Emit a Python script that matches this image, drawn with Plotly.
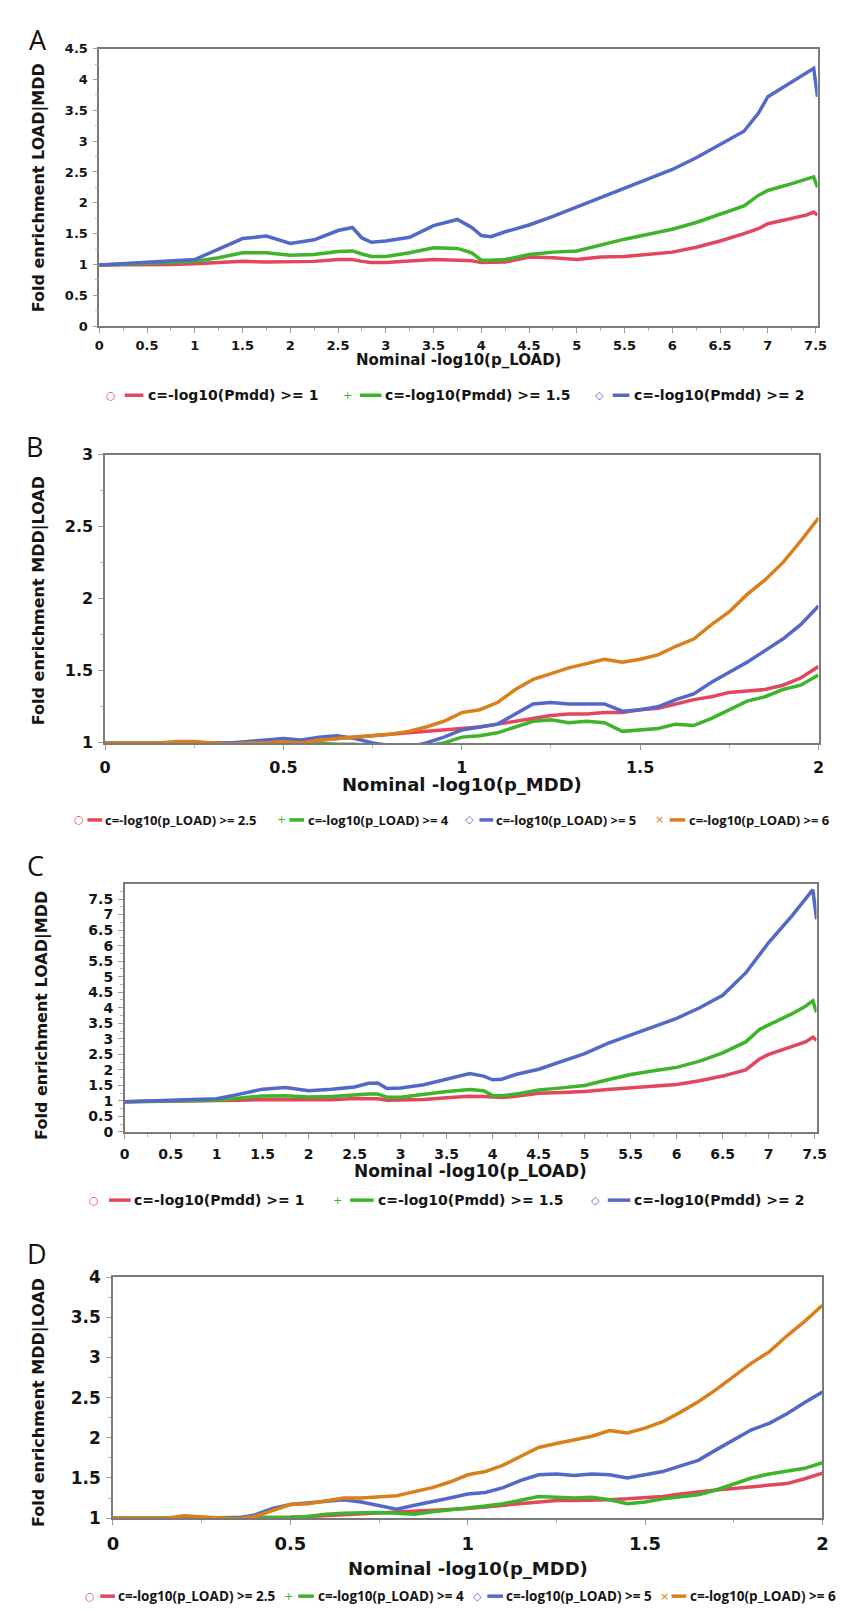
import plotly.graph_objects as go

W, H = 846, 1611

# ---------------- DATA ----------------
# Panels A and C: x = Nominal -log10(p_LOAD)
xA = [0, 0.25, 0.5, 0.75, 1, 1.25, 1.5, 1.75, 2, 2.25, 2.5, 2.65, 2.75, 2.85, 3, 3.25, 3.5, 3.75, 3.9,
      4, 4.1, 4.25, 4.5, 4.75, 5, 5.25, 5.5, 5.75, 6, 6.25, 6.5, 6.75, 6.9, 7, 7.25, 7.4, 7.48, 7.52]

redA = [0.99, 0.99, 1.0, 1.0, 1.01, 1.03, 1.05, 1.04, 1.04, 1.05, 1.08, 1.08, 1.05, 1.03, 1.03, 1.05, 1.08, 1.07, 1.06,
        1.03, 1.03, 1.04, 1.12, 1.11, 1.08, 1.12, 1.13, 1.16, 1.20, 1.28, 1.38, 1.50, 1.58, 1.66, 1.75, 1.80, 1.85, 1.80]
greenA = [0.99, 1.0, 1.02, 1.03, 1.05, 1.11, 1.19, 1.19, 1.15, 1.16, 1.21, 1.22, 1.17, 1.13, 1.13, 1.19, 1.27, 1.26, 1.19,
          1.07, 1.07, 1.08, 1.16, 1.20, 1.22, 1.32, 1.41, 1.49, 1.57, 1.68, 1.81, 1.95, 2.12, 2.20, 2.31, 2.38, 2.42, 2.25]
blueA = [0.99, 1.01, 1.03, 1.05, 1.08, 1.25, 1.42, 1.46, 1.34, 1.40, 1.55, 1.60, 1.43, 1.36, 1.38, 1.44, 1.63, 1.73, 1.60,
         1.47, 1.45, 1.53, 1.64, 1.78, 1.93, 2.09, 2.24, 2.38, 2.54, 2.73, 2.95, 3.16, 3.45, 3.72, 3.96, 4.10, 4.18, 3.72]

redC = [0.97, 0.98, 0.99, 1.0, 1.0, 1.02, 1.05, 1.04, 1.03, 1.04, 1.08, 1.08, 1.07, 1.02, 1.03, 1.05, 1.10, 1.15, 1.14,
        1.12, 1.11, 1.15, 1.25, 1.27, 1.30, 1.37, 1.42, 1.47, 1.53, 1.65, 1.80, 2.0, 2.35, 2.50, 2.75, 2.90, 3.05, 2.95]
greenC = [0.97, 0.99, 1.0, 1.01, 1.02, 1.08, 1.16, 1.17, 1.13, 1.14, 1.20, 1.22, 1.22, 1.12, 1.12, 1.22, 1.30, 1.37, 1.33,
          1.17, 1.17, 1.22, 1.35, 1.42, 1.50, 1.68, 1.85, 1.97, 2.08, 2.28, 2.55, 2.90, 3.30, 3.45, 3.80, 4.05, 4.22, 3.85]
blueC = [0.97, 0.99, 1.01, 1.03, 1.07, 1.22, 1.38, 1.43, 1.33, 1.38, 1.45, 1.57, 1.58, 1.40, 1.42, 1.52, 1.70, 1.88, 1.80,
         1.68, 1.70, 1.85, 2.02, 2.28, 2.52, 2.85, 3.12, 3.38, 3.66, 4.0, 4.40, 5.12, 5.70, 6.10, 6.95, 7.50, 7.80, 6.85]

# Panels B and D: x = Nominal -log10(p_MDD)
xB = [0, 0.05, 0.1, 0.15, 0.2, 0.25, 0.3, 0.35, 0.4, 0.45,
      0.5, 0.55, 0.6, 0.65, 0.7, 0.75, 0.8, 0.85, 0.9, 0.95,
      1.0, 1.05, 1.1, 1.15, 1.2, 1.25, 1.3, 1.35, 1.4, 1.45,
      1.5, 1.55, 1.6, 1.65, 1.7, 1.75, 1.8, 1.85, 1.9, 1.95, 2.0]

redB = [1.0, 1.0, 1.0, 1.0, 1.0, 1.0, 1.0, 1.0, 1.0, 1.0,
        1.01, 1.01, 1.02, 1.03, 1.04, 1.05, 1.06, 1.07, 1.08, 1.09,
        1.10, 1.11, 1.13, 1.15, 1.17, 1.19, 1.20, 1.20, 1.21, 1.21,
        1.23, 1.24, 1.27, 1.30, 1.32, 1.35, 1.36, 1.37, 1.40, 1.45, 1.53]
greenB = [1.0, 1.0, 1.0, 1.0, 1.0, 1.0, 1.0, 1.0, 0.99, 0.99,
          0.99, 1.0, 1.0, 0.99, 0.99, 0.98, 0.97, 0.96, 0.98, 1.0,
          1.04, 1.05, 1.07, 1.11, 1.15, 1.16, 1.14, 1.15, 1.14, 1.08,
          1.09, 1.10, 1.13, 1.12, 1.17, 1.23, 1.29, 1.32, 1.37, 1.40, 1.47]
blueB = [1.0, 1.0, 1.0, 1.0, 1.0, 1.0, 1.0, 1.0, 1.01, 1.02,
         1.03, 1.02, 1.04, 1.05, 1.03, 1.0, 0.98, 0.97, 1.0, 1.04,
         1.09, 1.11, 1.13, 1.20, 1.27, 1.28, 1.27, 1.27, 1.27, 1.22,
         1.23, 1.25, 1.30, 1.34, 1.42, 1.49, 1.56, 1.64, 1.72, 1.82, 1.95]
orangeB = [1.0, 1.0, 0.995, 1.0, 1.01, 1.01, 1.0, 0.99, 1.0, 1.0,
           1.01, 1.0, 1.02, 1.03, 1.04, 1.05, 1.06, 1.08, 1.11, 1.15,
           1.21, 1.23, 1.28, 1.37, 1.44, 1.48, 1.52, 1.55, 1.58, 1.56,
           1.58, 1.61, 1.67, 1.72, 1.82, 1.91, 2.03, 2.13, 2.25, 2.40, 2.56]

redD = [1.0, 1.0, 1.0, 1.0, 1.0, 1.0, 1.0, 1.0, 1.0, 1.0,
        1.01, 1.02, 1.03, 1.04, 1.05, 1.06, 1.07, 1.08, 1.09, 1.10,
        1.12, 1.14, 1.16, 1.18, 1.20, 1.22, 1.22, 1.22, 1.23, 1.24,
        1.25, 1.27, 1.30, 1.33, 1.35, 1.37, 1.39, 1.40, 1.43, 1.49, 1.56]
greenD = [1.0, 1.0, 1.0, 1.0, 1.0, 1.0, 1.0, 1.0, 1.0, 1.0,
          1.01, 1.02, 1.05, 1.06, 1.07, 1.07, 1.06, 1.05, 1.08, 1.10,
          1.12, 1.15, 1.18, 1.22, 1.27, 1.26, 1.25, 1.26, 1.23, 1.18,
          1.20, 1.24, 1.27, 1.29, 1.35, 1.42, 1.50, 1.55, 1.58, 1.62, 1.69]
blueD = [1.0, 1.0, 1.0, 1.0, 1.0, 1.0, 1.0, 1.0, 1.04, 1.12,
         1.17, 1.19, 1.21, 1.23, 1.20, 1.15, 1.11, 1.16, 1.20, 1.25,
         1.30, 1.32, 1.38, 1.47, 1.54, 1.55, 1.53, 1.55, 1.54, 1.50,
         1.54, 1.58, 1.65, 1.72, 1.85, 1.98, 2.10, 2.18, 2.30, 2.44, 2.57]
orangeD = [1.0, 1.0, 0.99, 1.0, 1.03, 1.02, 1.0, 0.99, 1.02, 1.09,
           1.17, 1.18, 1.21, 1.25, 1.25, 1.27, 1.28, 1.33, 1.38, 1.45,
           1.54, 1.58, 1.66, 1.77, 1.88, 1.93, 1.97, 2.02, 2.09, 2.06,
           2.12, 2.20, 2.32, 2.45, 2.60, 2.76, 2.93, 3.07, 3.27, 3.45, 3.65]

namesAC = ["c=-log10(Pmdd) >= 1", "c=-log10(Pmdd) >= 1.5", "c=-log10(Pmdd) >= 2"]
namesBD = ["c=-log10(p_LOAD) >= 2.5", "c=-log10(p_LOAD) >= 4", "c=-log10(p_LOAD) >= 5", "c=-log10(p_LOAD) >= 6"]
xtitleAC = "Nominal -log10(p_LOAD)"
xtitleBD = "Nominal -log10(p_MDD)"
ytitleAC = "Fold enrichment LOAD|MDD"
ytitleBD = "Fold enrichment MDD|LOAD"

# ---------------- STYLE ----------------
RED, GREEN, BLUE, ORANGE = "#E2475D", "#3DB42A", "#5468C8", "#D9801C"
COLORS = [RED, GREEN, BLUE, ORANGE]
SYMBOLS = ["○", "+", "◇", "×"]
TXT = "#151515"
BOLD = "DejaVu Sans"


def px(x):
    return x / W


def py(y):
    return 1 - y / H


fig = go.Figure()

panels = [
    dict(key="", x=xA, ys=[redA, greenA, blueA], names=namesAC, dom=(87, 820, 31, 312),
         xr=[0, 7.52], yr=[0, 4.5], tickfs=13, xtickfs=13, xstand=2, letter="A", lpos=(24, 22),
         xt=xtitleAC, xtpos=346, xtfs=15, yt=ytitleAC, ytpos=(25, 172), legy=382, legfs=14, legfam=BOLD,
         leg=[(99, 113, 132, 135), (340, 353, 375, 377), (597, 611, 628, 631)]),
    dict(key="2", x=xB, ys=[redB, greenB, blueB, orangeB], names=namesBD, dom=(93, 821, 442, 734),
         xr=[0, 2], yr=[1, 3], tickfs=16, xtickfs=16, xstand=4, letter="B", lpos=(21, 434),
         xt=xtitleBD, xtpos=776, xtfs=18, yt=ytitleBD, ytpos=(25, 590), legy=812, legfs=13, legfam="Open Sans",
         leg=[(66, 75, 90, 91), (273, 281, 296, 298), (465, 475, 489, 490), (659, 669, 685, 687)]),
    dict(key="3", x=xA, ys=[redC, greenC, blueC], names=namesAC, dom=(113, 819, 877, 1128),
         xr=[0, 7.52], yr=[0, 7.98], tickfs=14, xtickfs=14, xstand=3, letter="C", lpos=(22, 858),
         xt=xtitleAC, xtpos=1167, xtfs=17, yt=ytitleAC, ytpos=(29, 1010), legy=1197, legfs=14, legfam=BOLD,
         leg=[(82, 97, 119, 120), (330, 343, 367, 369), (593, 606, 629, 631)]),
    dict(key="4", x=xB, ys=[redD, greenD, blueD, orangeD], names=namesBD, dom=(101, 825, 1275, 1519),
         xr=[0, 2], yr=[1, 4.0], tickfs=17, xtickfs=18, xstand=4, letter="D", lpos=(23, 1251),
         xt=xtitleBD, xtpos=1570, xtfs=18, yt=ytitleBD, ytpos=(25, 1402), legy=1598, legfs=13.5, legfam="Open Sans",
         leg=[(78, 88, 103, 104), (280, 290, 306, 308), (473, 483, 499, 500), (664, 671, 686, 688)]),
]

annotations = []
shapes = []
for p in panels:
    k = p["key"]
    x0, x1, yt_, yb_ = p["dom"]
    xa = "xaxis" + k
    ya = "yaxis" + k
    for i, ys in enumerate(p["ys"]):
        fig.add_trace(go.Scatter(x=p["x"], y=ys, mode="lines", name=p["names"][i],
                                 line=dict(color=COLORS[i], width=3.5),
                                 xaxis="x" + k, yaxis="y" + k, showlegend=False, cliponaxis=True))
    common = dict(showline=True, linecolor="#7a7a7a", linewidth=1.5, mirror=True, showgrid=False,
                  zeroline=False, ticks="outside", ticklen=5, tickcolor="#9a9a9a", tickwidth=1,
                  minor=dict(ticks="outside", ticklen=3, tickcolor="#b5b5b5", dtick=0.25, showgrid=False))
    fig.update_layout({
        xa: dict(common, domain=[px(x0), px(x1)], range=p["xr"], dtick=0.5, tick0=0,
                 anchor="y" + k, ticklabelstandoff=p["xstand"],
                 tickfont=dict(family=BOLD, size=p["xtickfs"], color=TXT, weight="bold")),
        ya: dict(common, domain=[py(yb_), py(yt_)], range=p["yr"], dtick=0.5, tick0=0,
                 anchor="x" + k, ticklabelstandoff=2,
                 tickfont=dict(family=BOLD, size=p["tickfs"], color=TXT, weight="bold")),
    })
    annotations.append(dict(text=p["letter"], x=px(p["lpos"][0]), y=py(p["lpos"][1]), xref="paper", yref="paper",
                            xanchor="center", yanchor="middle", showarrow=False,
                            font=dict(family="Open Sans", size=27, color="#111")))
    annotations.append(dict(text=p["xt"], x=px((x0 + x1) / 2), y=py(p["xtpos"]), xref="paper", yref="paper",
                            xanchor="center", yanchor="middle", showarrow=False,
                            font=dict(family=BOLD, size=p["xtfs"], color=TXT, weight="bold")))
    annotations.append(dict(text=p["yt"], x=px(p["ytpos"][0]), y=py(p["ytpos"][1]), xref="paper", yref="paper",
                            xanchor="center", yanchor="middle", showarrow=False, textangle=-90,
                            font=dict(family=BOLD, size=16, color=TXT, weight="bold")))
    for i, (sx, lx0, lx1, tx) in enumerate(p["leg"]):
        annotations.append(dict(text=SYMBOLS[i], x=px(sx), y=py(p["legy"]), xref="paper", yref="paper",
                                xanchor="center", yanchor="middle", showarrow=False,
                                font=dict(family="DejaVu Sans", size=11, color=COLORS[i])))
        shapes.append(dict(type="line", xref="paper", yref="paper", x0=px(lx0), x1=px(lx1),
                           y0=py(p["legy"]), y1=py(p["legy"]), line=dict(color=COLORS[i], width=3.5)))
        annotations.append(dict(text=p["names"][i], x=px(tx), y=py(p["legy"]), xref="paper", yref="paper",
                                xanchor="left", yanchor="middle", showarrow=False,
                                font=dict(family=p["legfam"], size=p["legfs"], color=TXT, weight="bold")))

fig.update_layout(width=W, height=H, margin=dict(l=0, r=0, t=0, b=0),
                  paper_bgcolor="white", plot_bgcolor="white", showlegend=False,
                  annotations=annotations, shapes=shapes)

fig.write_html("out.html")
